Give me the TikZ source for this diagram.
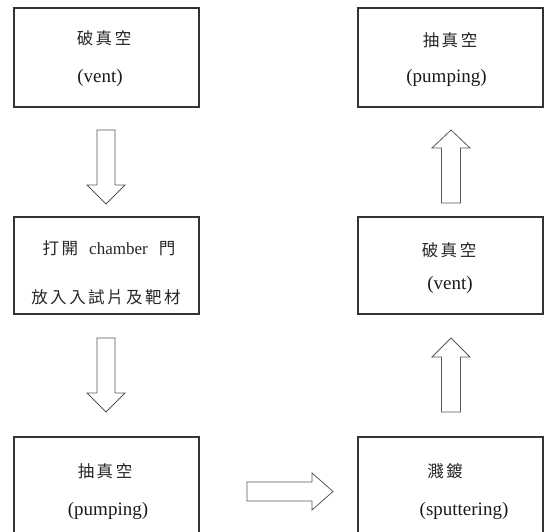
\documentclass[tikz,border=0pt]{standalone}
\usepackage{fontspec}
\setmainfont{Liberation Serif}
\newfontfamily\cjk{Noto Sans CJK TC}
\newcommand\cg{\kern2.5pt}
\tikzset{
  box/.style={draw=black!80, line width=1.3pt, rectangle, inner sep=0pt},
  blockarrow/.style={draw=black!65, line width=0.8pt, fill=white, line join=miter},
  zh/.style={inner sep=0pt, text=black!85, font=\cjk\fontsize{16.5}{16.5}\selectfont},
  en/.style={inner sep=0pt, text=black!90, font=\fontsize{19}{19}\selectfont}
}
\newcommand\downarrowblk[4]{% cx, ytop, ybase, ytip
  \draw[blockarrow] (#1-9,#2) -- (#1+9,#2) -- (#1+9,#3) -- (#1+19,#3) -- (#1,#4) -- (#1-19,#3) -- (#1-9,#3) -- cycle;}
\newcommand\uparrowblk[4]{% cx, ybottom, ybase, ytip
  \draw[blockarrow] (#1-9.5,#2) -- (#1+9.5,#2) -- (#1+9.5,#3) -- (#1+19,#3) -- (#1,#4) -- (#1-19,#3) -- (#1-9.5,#3) -- cycle;}
\begin{document}
\begin{tikzpicture}[x=1pt,y=-1pt]
\useasboundingbox (0,0) rectangle (549,531);
\clip (0,0) rectangle (549,531);
% boxes
\node[box, minimum width=185pt, minimum height=99pt] (b1) at (106.5,57.5) {};
\node[box, minimum width=185pt, minimum height=99pt] (b2) at (450.5,57.5) {};
\node[box, minimum width=185pt, minimum height=97pt] (b3) at (106.5,265.5) {};
\node[box, minimum width=185pt, minimum height=97pt] (b4) at (450.5,265.5) {};
\node[box, minimum width=185pt, minimum height=110pt] (b5) at (106.5,492) {};
\node[box, minimum width=185pt, minimum height=110pt] (b6) at (450.5,492) {};
% texts
\node[zh] (t1a) at (104,38) {破\cg 真\cg 空};
\node[en] (t1b) at (100,78) {(vent)};
\node[zh] (t2a) at (450,40) {抽\cg 真\cg 空};
\node[en] (t2b) at (446.5,78) {(pumping)};
\node[zh] (t3a) at (109,248) {打\cg 開\kern11pt{\fontspec{Liberation Serif}\fontsize{17}{17}\selectfont chamber}\kern11pt 門};
\node[zh] (t3b) at (106,297) {放\cg 入\cg 入\cg 試\cg 片\cg 及\cg 靶\cg 材};
\node[zh] (t4a) at (449,250) {破\cg 真\cg 空};
\node[en] (t4b) at (450,285) {(vent)};
\node[zh] (t5a) at (105,471) {抽\cg 真\cg 空};
\node[en] (t5b) at (108,511) {(pumping)};
\node[zh] (t6a) at (445,471) {濺\cg 鍍};
\node[en] (t6b) at (464,511) {(sputtering)};
% block arrows
\downarrowblk{106}{130}{185}{204}
\downarrowblk{106}{338}{393}{412}
\uparrowblk{451}{412}{357}{338}
\uparrowblk{451}{203}{148}{130}
\draw[blockarrow] (247,482) -- (312,482) -- (312,473) -- (333,491.5) -- (312,510) -- (312,501) -- (247,501) -- cycle;
\end{tikzpicture}
\end{document}
